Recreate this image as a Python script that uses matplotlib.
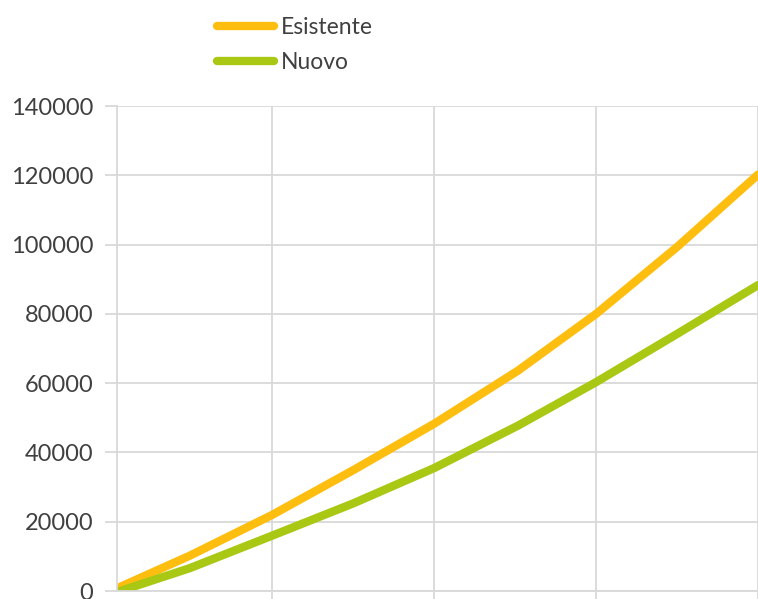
import matplotlib
matplotlib.use('Agg')
import matplotlib.pyplot as plt

plt.rcParams['font.family'] = ['Lato', 'DejaVu Sans']

# values
years = [0.3, 2.45, 5, 7.5, 10, 12.6, 15, 17.5, 20]
esistente = [1200, 10200, 22000, 34900, 48300, 63700, 80000, 99300, 120200]
nuovo = [0, 6600, 16000, 25300, 35500, 47800, 60300, 74200, 88300]
series_names = ['Esistente', 'Nuovo']
yticks = [0, 20000, 40000, 60000, 80000, 100000, 120000, 140000]

grid_color = '#d9d9d9'
text_color = '#404040'

fig = plt.figure(figsize=(7.58, 5.99), dpi=100)
ax = fig.add_axes([117 / 758, 8 / 599, 1 - 117 / 758, 485 / 599])

ax.plot(years, esistente, color='#FEBE10', lw=6, solid_capstyle='round',
        solid_joinstyle='round', label=series_names[0])
ax.plot(years, nuovo, color='#A8C813', lw=6, solid_capstyle='round',
        solid_joinstyle='round', label=series_names[1])

ax.set_xlim(0.2, 19.92)
ax.set_ylim(0, 140000)
ax.set_xticks([5, 10, 15, 20])
ax.set_yticks(yticks)
ax.set_yticklabels([str(v) for v in yticks])
ax.grid(True, color=grid_color, lw=1.3)
ax.set_axisbelow(True)

for side in ['top', 'right']:
    ax.spines[side].set_visible(False)
for side in ['left', 'bottom']:
    ax.spines[side].set_color(grid_color)
    ax.spines[side].set_linewidth(1.3)

ax.tick_params(axis='y', length=9, width=1.3, color=grid_color, pad=8,
               labelsize=17, labelcolor=text_color)
ax.tick_params(axis='x', length=9, width=1.3, color=grid_color,
               labelbottom=False)

fig.legend(loc='upper left', bbox_to_anchor=(206 / 758, 1 - 6 / 599),
           frameon=False, fontsize=16.5, handlelength=2.45, handletextpad=0.3,
           labelspacing=0.6, borderpad=0, labelcolor=text_color)

fig.savefig('out.png', dpi=100)
